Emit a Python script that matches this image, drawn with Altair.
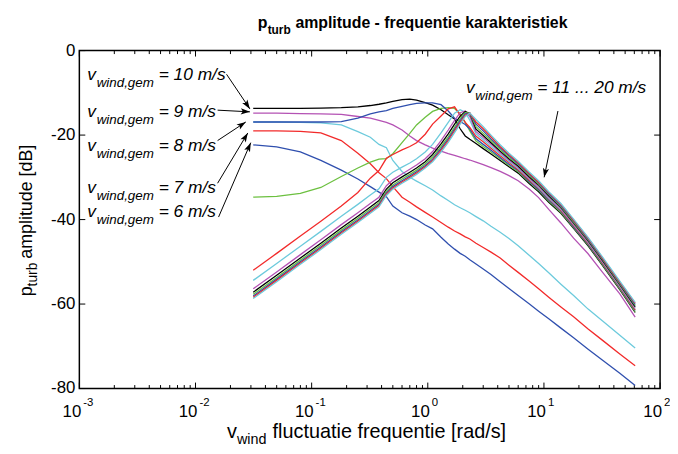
import math
import altair as alt
import pandas as pd

# ---------------- data ----------------
F = [0.0314, 0.05, 0.08, 0.12, 0.18, 0.25, 0.32, 0.38, 0.44, 0.5,
     0.6, 0.7, 0.8, 0.95, 1.1, 1.3, 1.5, 1.7, 1.9, 2.1,
     2.3, 2.6, 3.0, 3.5, 4.2, 5.0, 6.0, 7.5, 9.0, 11,
     14, 18, 24, 32, 45, 61]

V6 = [-22.3, -22.8, -24.0, -26.0, -28.3, -30.4, -32.2, -33.5, -34.6, -36.8,
      -38.4, -39.2, -40.0, -41.3, -42.2, -44.2, -45.8, -47.0, -48.0, -48.7,
      -49.5, -50.5, -51.7, -53.0, -54.7, -56.3, -58.0, -60.0, -61.7, -63.5,
      -65.7, -68.0, -70.7, -73.3, -76.4, -79.3]
V7 = [-19.0, -19.0, -19.1, -19.5, -21.3, -24.3, -26.8, -28.9, -30.3, -32.2,
      -34.7, -35.9, -37.0, -38.3, -39.4, -40.7, -41.8, -42.7, -43.4, -44.1,
      -44.6, -45.6, -46.6, -47.7, -49.1, -50.8, -52.5, -54.6, -56.4, -58.4,
      -60.7, -63.0, -65.9, -68.6, -71.8, -74.6]
V8 = [-16.9, -16.9, -17.0, -17.1, -17.6, -19.2, -20.5, -22.2, -23.0, -26.0,
      -28.6, -30.0, -30.9, -32.0, -33.0, -34.4, -35.5, -36.5, -37.2, -37.8,
      -38.4, -39.3, -40.3, -41.6, -43.0, -44.5, -46.2, -48.5, -50.4, -52.6,
      -55.3, -58.0, -61.2, -64.0, -67.4, -70.4]
V9 = [-14.8, -14.8, -14.9, -15.0, -15.1, -15.6, -16.0, -16.5, -17.0, -17.6,
      -18.8, -20.2, -21.3, -22.3, -23.1, -23.8, -24.4, -24.8, -25.2, -25.6,
      -25.9, -26.4, -27.0, -27.7, -28.6, -29.6, -30.8, -32.8, -34.8, -37.6,
      -40.8, -44.4, -48.1, -52.5, -57.6, -63.1]
V10 = [-13.7, -13.7, -13.7, -13.6, -13.5, -13.3, -13.0, -12.7, -12.4, -12.0,
       -11.6, -11.5, -11.7, -12.3, -12.9, -14.0, -15.2, -16.2, -18.5, -20.2,
       -21.0, -22.0, -23.2, -24.5, -26.0, -27.5, -29.0, -31.5, -33.4, -35.9,
       -38.5, -42.1, -46.2, -50.9, -56.6, -62.0]
V11 = [-34.7, -34.5, -33.8, -32.4, -29.8, -27.8, -26.4, -25.7, -25.6, -24.4,
       -21.8, -19.6, -17.6, -15.8, -14.4, -13.7, -13.5, -13.7, -15.0, -17.0,
       -19.0, -21.4, -22.7, -24.0, -25.6, -27.2, -28.7, -31.2, -33.1, -35.6,
       -38.3, -41.9, -46.0, -50.7, -56.4, -61.8]
V12 = [-16.9, -16.9, -16.9, -16.9, -16.8, -16.0, -15.0, -14.5, -14.2, -13.7,
       -13.2, -12.8, -12.5, -12.4, -12.4, -12.8, -14.3, -16.0, -16.8, -17.5,
       -18.6, -20.9, -22.2, -23.6, -25.3, -26.9, -28.4, -31.0, -32.9, -35.4,
       -38.0, -41.7, -45.8, -50.5, -56.2, -61.5]
V13 = [-52.0, -48.0, -43.9, -40.4, -36.8, -33.6, -30.2, -28.4, -25.5, -24.6,
       -23.5, -22.7, -21.8, -19.8, -17.4, -15.5, -13.8, -13.3, -15.3, -17.0,
       -18.2, -20.3, -21.6, -23.1, -24.9, -26.5, -28.2, -30.7, -32.6, -35.1,
       -37.8, -41.4, -45.6, -50.3, -56.0, -61.3]
V14 = [-54.4, -50.4, -46.3, -42.8, -39.2, -36.4, -34.2, -32.7, -30.0, -28.8,
       -27.6, -26.6, -25.6, -24.0, -22.2, -19.5, -17.0, -14.8, -14.0, -14.6,
       -16.5, -19.7, -21.1, -22.7, -24.5, -26.2, -27.9, -30.4, -32.4, -34.9,
       -37.6, -41.2, -45.4, -50.1, -55.8, -61.0]
V15 = [-56.4, -52.4, -48.3, -44.8, -41.2, -38.4, -36.2, -34.7, -32.0, -30.6,
       -29.2, -28.1, -27.1, -25.6, -23.9, -21.3, -18.8, -16.5, -14.7, -14.3,
       -15.6, -19.2, -20.6, -22.2, -24.1, -25.9, -27.6, -30.2, -32.1, -34.6,
       -37.4, -41.0, -45.2, -49.9, -55.6, -60.8]
V16 = [-57.2, -53.2, -49.1, -45.6, -42.0, -39.2, -37.0, -35.5, -32.8, -31.3,
       -29.9, -28.8, -27.8, -26.3, -24.6, -22.1, -19.7, -17.4, -15.5, -14.4,
       -14.9, -18.6, -20.1, -21.8, -23.8, -25.6, -27.3, -29.9, -31.8, -34.4,
       -37.1, -40.8, -45.0, -49.7, -55.4, -60.6]
V17 = [-57.7, -53.7, -49.6, -46.1, -42.5, -39.7, -37.5, -36.0, -33.3, -31.8,
       -30.4, -29.3, -28.3, -26.8, -25.2, -22.7, -20.4, -18.1, -16.1, -14.7,
       -14.8, -18.0, -19.6, -21.3, -23.4, -25.3, -27.0, -29.6, -31.6, -34.1,
       -36.9, -40.6, -44.8, -49.5, -55.2, -60.3]
V18 = [-58.1, -54.1, -50.0, -46.5, -42.9, -40.1, -37.9, -36.4, -33.7, -32.2,
       -30.8, -29.7, -28.7, -27.2, -25.7, -23.2, -20.9, -18.6, -16.6, -15.0,
       -14.8, -17.4, -19.0, -20.9, -23.0, -24.9, -26.8, -29.3, -31.3, -33.9,
       -36.7, -40.3, -44.6, -49.3, -55.0, -60.1]
V19 = [-58.4, -54.4, -50.3, -46.8, -43.2, -40.4, -38.2, -36.7, -34.0, -32.5,
       -31.1, -30.0, -29.0, -27.5, -26.0, -23.6, -21.3, -19.0, -17.0, -15.3,
       -14.8, -16.9, -18.5, -20.4, -22.7, -24.6, -26.5, -29.1, -31.1, -33.6,
       -36.4, -40.1, -44.4, -49.1, -54.8, -59.8]
V20 = [-58.7, -54.7, -50.6, -47.1, -43.5, -40.7, -38.5, -37.0, -34.3, -32.8,
       -31.4, -30.3, -29.3, -27.8, -26.3, -24.0, -21.7, -19.4, -17.4, -15.6,
       -14.8, -16.3, -18.0, -20.0, -22.3, -24.3, -26.2, -28.8, -30.8, -33.4,
       -36.2, -39.9, -44.2, -48.9, -54.6, -59.6]

SPEEDS = [6, 7, 8, 9, 10, 11, 12, 13, 14, 15, 16, 17, 18, 19, 20]
SERIES = [V6, V7, V8, V9, V10, V11, V12, V13, V14, V15, V16, V17, V18, V19, V20]
BLUE, RED, CYAN, MAG, BLK, GRN = "#2f4fae", "#f22a2a", "#6ccadc", "#b452b4", "#000000", "#6cc040"
LINE_COLORS = [BLUE, RED, CYAN, MAG, BLK, GRN, BLUE, RED, CYAN, MAG, BLK, GRN, BLUE, RED, CYAN]

# annotation labels
LBL_F = [0.00117, 0.00117, 0.00117, 0.00117, 0.00117, 2.13]
LBL_DB = [-7.0, -15.7, -23.7, -33.8, -39.4, -10.1]
LBL_TXT = ["= 10 m/s", "= 9 m/s", "= 8 m/s", "= 7 m/s", "= 6 m/s", "= 11 ... 20 m/s"]
# arrows: tail -> tip
ARR_F0 = [0.0185, 0.0155, 0.0155, 0.0155, 0.0158, 13.2]
ARR_DB0 = [-5.6, -14.1, -21.3, -31.4, -39.4, -14.3]
ARR_F1 = [0.0294, 0.0294, 0.0271, 0.0282, 0.0299, 10.04]
ARR_DB1 = [-13.8, -14.5, -16.9, -19.5, -21.8, -30.0]

# ticks
X_MAJOR = [0.001, 0.01, 0.1, 1, 10, 100]
X_EXP = ["-3", "-2", "-1", "0", "1", "2"]
X_MINOR = [m * d for d in [0.001, 0.01, 0.1, 1, 10] for m in range(2, 10)]
Y_TICKS = [-80, -60, -40, -20, 0]
Y_LABELS = ["-80", "-60", "-40", "-20", "0"]

# ---------------- chart ----------------
W, H = 586, 341
FONT = "Liberation Sans"
xs = alt.Scale(type="log", domain=[0.001, 100])
ys = alt.Scale(domain=[-80, 0])
XE = dict(scale=xs, axis=None)
YE = dict(scale=ys, axis=None)

layers = []

# inward ticks
maj = pd.DataFrame({"f": X_MAJOR})
mnr = pd.DataFrame({"f": X_MINOR})
for df, ln in [(maj, 6), (mnr, 3.5)]:
    layers.append(alt.Chart(df).mark_rule(color="black", strokeWidth=1).encode(
        x=alt.X("f:Q", **XE), y=alt.value(H), y2=alt.value(H - ln)))
    layers.append(alt.Chart(df).mark_rule(color="black", strokeWidth=1).encode(
        x=alt.X("f:Q", **XE), y=alt.value(0), y2=alt.value(ln)))
yt = pd.DataFrame({"db": Y_TICKS, "lab": Y_LABELS})
layers.append(alt.Chart(yt).mark_rule(color="black", strokeWidth=1).encode(
    y=alt.Y("db:Q", **YE), x=alt.value(0), x2=alt.value(6)))
layers.append(alt.Chart(yt).mark_rule(color="black", strokeWidth=1).encode(
    y=alt.Y("db:Q", **YE), x=alt.value(W), x2=alt.value(W - 6)))
layers.append(alt.Chart(yt).mark_text(align="right", baseline="middle", font=FONT,
                                      fontSize=17, color="black").encode(
    y=alt.Y("db:Q", **YE), x=alt.value(-4), text="lab:N"))

# data lines
for sp, vals, col in zip(SPEEDS, SERIES, LINE_COLORS):
    df = pd.DataFrame({"f": F, "db": vals, "v": sp})
    layers.append(alt.Chart(df).mark_line(color=col, strokeWidth=1.3).encode(
        x=alt.X("f:Q", **XE), y=alt.Y("db:Q", **YE)))

# x tick labels (10 with superscript)
xl = pd.DataFrame({"f": X_MAJOR, "e": X_EXP})
layers.append(alt.Chart(xl).mark_text(align="right", baseline="alphabetic", dx=2,
                                      font=FONT, fontSize=17, color="black").encode(
    x=alt.X("f:Q", **XE), y=alt.value(H + 29), text=alt.value("10")))
layers.append(alt.Chart(xl).mark_text(align="left", baseline="alphabetic", dx=4,
                                      font=FONT, fontSize=11.5, color="black").encode(
    x=alt.X("f:Q", **XE), y=alt.value(H + 18), text="e:N"))

# annotations
lbl = pd.DataFrame({"f": LBL_F, "db": LBL_DB, "t": LBL_TXT})
base = alt.Chart(lbl)
enc = dict(x=alt.X("f:Q", **XE), y=alt.Y("db:Q", **YE))
layers.append(base.mark_text(align="left", baseline="alphabetic", font=FONT, fontSize=17.5,
                             fontStyle="italic", color="black").encode(text=alt.value("v"), **enc))
layers.append(base.mark_text(align="left", baseline="alphabetic", font=FONT, fontSize=13.5,
                             fontStyle="italic", color="black", dx=9.5, dy=7).encode(
    text=alt.value("wind,gem"), **enc))
layers.append(base.mark_text(align="left", baseline="alphabetic", font=FONT, fontSize=17.5,
                             fontStyle="italic", color="black", dx=72).encode(text="t:N", **enc))


def sx(f):
    return W * (math.log10(f) + 3) / 5


def sy(d):
    return H * (-d) / 80


ANG = [math.degrees(math.atan2(sx(f1) - sx(f0), -(sy(d1) - sy(d0)))) % 360
       for f0, d0, f1, d1 in zip(ARR_F0, ARR_DB0, ARR_F1, ARR_DB1)]
arr = pd.DataFrame({"f0": ARR_F0, "d0": ARR_DB0, "f1": ARR_F1, "d1": ARR_DB1, "ang": ANG})
layers.append(alt.Chart(arr).mark_rule(color="black", strokeWidth=1).encode(
    x=alt.X("f0:Q", **XE), y=alt.Y("d0:Q", **YE), x2="f1:Q", y2="d1:Q"))
layers.append(alt.Chart(arr).mark_point(
    shape="M0,0L0.75,2.2L0,1.7L-0.75,2.2Z", filled=True, size=70, color="black",
    opacity=1, strokeWidth=0).encode(
    x=alt.X("f1:Q", **XE), y=alt.Y("d1:Q", **YE),
    angle=alt.Angle("ang:Q", scale=None)))


# titles (with subscripts)
def txt(s, x, y, size, bold=False, angle=0, align="left"):
    return alt.Chart(pd.DataFrame({"a": [0]})).mark_text(
        text=s, align=align, baseline="alphabetic", font=FONT, fontSize=size,
        fontWeight="bold" if bold else "normal", color="black", angle=angle).encode(
        x=alt.value(x), y=alt.value(y))


layers += [
    txt("p", 180, -23, 16, bold=True),
    txt("turb", 190, -17, 12, bold=True),
    txt("amplitude - frequentie karakteristiek", 218, -23, 16, bold=True),
    txt("v", 149, 391, 20),
    txt("wind", 159, 396.5, 14.5),
    txt("fluctuatie frequentie [rad/s]", 195, 391, 20),
    txt("p", -48, 248, 18, angle=270),
    txt("turb", -43, 238, 14, angle=270),
    txt("amplitude [dB]", -48, 210, 18, angle=270),
]

chart = alt.layer(*layers).properties(
    width=W, height=H,
    autosize=alt.AutoSizeParams(type="none"),
    padding={"left": 72, "top": 41, "right": 10, "bottom": 56},
    background="white",
).configure_view(stroke="black", strokeWidth=1.5)

chart.save("out.html", embed_options={"renderer": "svg", "actions": False})
